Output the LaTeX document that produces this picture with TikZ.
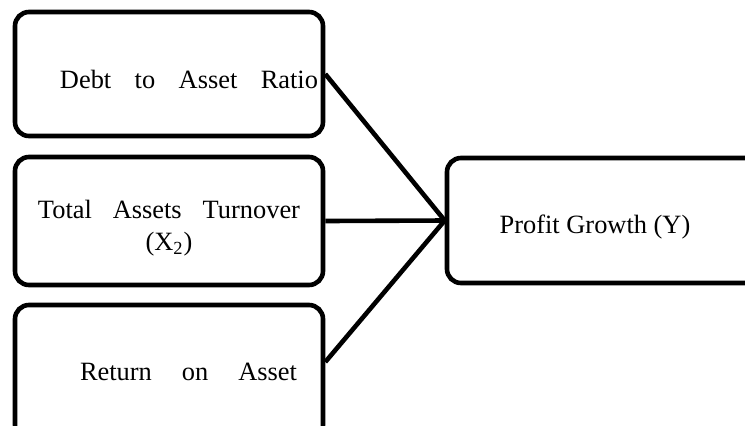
\documentclass[tikz,border=0pt]{standalone}
\usepackage{fontspec}
\setmainfont{Liberation Serif}
\begin{document}
\begin{tikzpicture}[x=0.5pt,y=-0.5pt,
  varbox/.style={draw,line width=2.3pt,rounded corners=7pt,minimum width=154pt,minimum height=62pt,inner sep=0pt},
  vartext/.style={font=\fontsize{13.2}{16}\selectfont,inner sep=0pt,anchor=base},
  link/.style={line width=2.3pt}]
\clip (0,0) rectangle (745,425);
%boxes
\node[varbox] (dar) at (169,74) {};
\node[varbox,minimum height=64pt] (tato) at (169,221) {};
\node[varbox,minimum height=67pt] (roa) at (169,372) {};
\node[varbox,minimum width=161.5pt,minimum height=62.5pt] (pg) at (608.5,220.5) {};
%texts
\node[vartext] (darl) at (189,88) {\makebox[129pt][s]{Debt to Asset Ratio}};
\node[vartext,align=center,anchor=north] (tatol) at (169,200) {\makebox[131pt][s]{Total Assets Turnover}\\(X\textsubscript{2})};
\node[vartext] (roal) at (188.5,380) {\makebox[108.5pt][s]{Return on Asset}};
\node[vartext] (pgl) at (595,233) {Profit Growth (Y)};
%lines
\draw[link] (dar.east) -- (pg.west);
\draw[link] (tato.east) -- (pg.west);
\draw[link] ([yshift=5pt]roa.east) -- (pg.west);
\end{tikzpicture}
\end{document}
